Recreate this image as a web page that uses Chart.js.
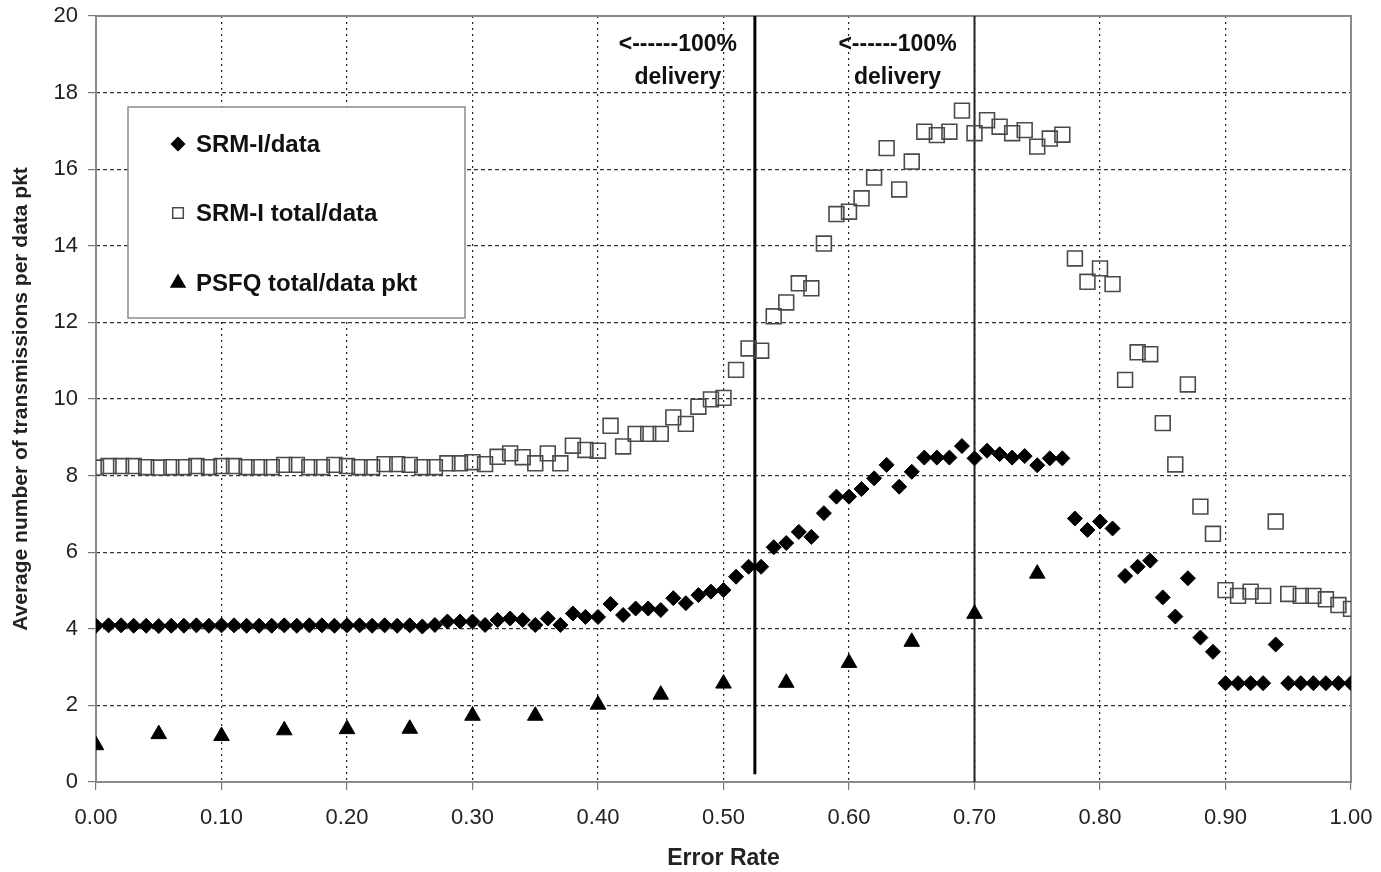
<!DOCTYPE html>
<html>
<head>
<meta charset="utf-8">
<script src="https://cdn.jsdelivr.net/npm/chart.js@4.4.1/dist/chart.umd.min.js"></script>
<style>
  html, body { margin: 0; padding: 0; background: #fff; }
  #wrap { width: 1381px; height: 872px; }
</style>
</head>
<body>
<div id="wrap"><canvas id="errChart" width="1381" height="872"></canvas></div>
<script>
// error rate for the SRM-I runs (0.00 .. 1.00)
var errorRate = [0.00,0.01,0.02,0.03,0.04,0.05,0.06,0.07,0.08,0.09,
  0.10,0.11,0.12,0.13,0.14,0.15,0.16,0.17,0.18,0.19,
  0.20,0.21,0.22,0.23,0.24,0.25,0.26,0.27,0.28,0.29,
  0.30,0.31,0.32,0.33,0.34,0.35,0.36,0.37,0.38,0.39,
  0.40,0.41,0.42,0.43,0.44,0.45,0.46,0.47,0.48,0.49,
  0.50,0.51,0.52,0.53,0.54,0.55,0.56,0.57,0.58,0.59,
  0.60,0.61,0.62,0.63,0.64,0.65,0.66,0.67,0.68,0.69,
  0.70,0.71,0.72,0.73,0.74,0.75,0.76,0.77,0.78,0.79,
  0.80,0.81,0.82,0.83,0.84,0.85,0.86,0.87,0.88,0.89,
  0.90,0.91,0.92,0.93,0.94,0.95,0.96,0.97,0.98,0.99,1.00];

var srmData = [4.08,4.09,4.09,4.08,4.08,4.07,4.08,4.08,4.09,4.08,
  4.09,4.09,4.08,4.08,4.08,4.09,4.08,4.09,4.09,4.08,
  4.09,4.09,4.08,4.09,4.08,4.09,4.06,4.10,
  4.19,4.19,4.19,4.10,4.23,4.27,4.23,4.10,4.27,4.10,
  4.40,4.31,4.31,4.65,4.36,4.53,4.53,4.49,4.80,4.67,
  4.88,4.97,5.01,5.36,5.62,5.62,6.13,
  6.24,6.53,6.40,7.02,7.45,7.45,7.65,7.93,8.28,7.71,
  8.10,8.47,8.47,8.47,8.77,8.45,8.65,8.56,8.47,8.51,
  8.27,8.45,8.45,
  6.88,6.58,6.80,6.62,5.38,5.62,5.78,4.82,4.32,5.32,
  3.77,3.40,2.58,2.58,2.58,2.58,3.59,2.58,2.58,2.58,
  2.58,2.58,2.58];

var srmTotal = [8.21,8.25,8.25,8.25,8.22,8.21,8.22,8.22,8.25,8.22,
  8.25,8.25,8.22,8.22,8.22,8.28,8.28,8.22,8.22,8.28,
  8.25,8.22,8.22,8.30,8.30,8.28,8.22,8.22,
  8.32,8.32,8.35,8.30,8.49,8.58,8.48,8.32,8.58,8.32,
  8.78,8.67,8.65,9.30,8.76,9.09,9.09,9.09,9.52,9.35,
  9.80,9.99,10.03,10.76,11.32,11.26,12.16,
  12.52,13.02,12.89,14.06,14.83,14.89,15.24,15.78,16.55,15.47,
  16.20,16.98,16.89,16.98,17.53,16.94,17.28,17.11,16.94,17.02,
  16.59,16.80,16.90,
  13.67,13.06,13.41,13.00,10.50,11.22,11.17,9.37,8.29,10.38,
  7.19,6.48,5.01,4.86,4.97,4.86,6.80,4.91,4.86,4.86,
  4.77,4.62,4.52];

// PSFQ was only run every 0.05
var psfqRate = [0.00,0.05,0.10,0.15,0.20,0.25,0.30,0.35,0.40,0.45,0.50,0.55,0.60,0.65,0.70,0.75];
var psfqTotal = [0.96,1.25,1.20,1.35,1.38,1.39,1.73,1.73,2.02,2.28,2.57,2.59,3.11,3.66,4.39,5.44];

// "100% delivery" limits
var cutoffX = [0.525, 0.70];
var cutoffLow = [0.2, 0];
var cutoffHigh = [20, 20];

var seriesNames = ["SRM-I/data", "SRM-I total/data", "PSFQ total/data pkt"];
var xTicks = [0, 0.1, 0.2, 0.3, 0.4, 0.5, 0.6, 0.7, 0.8, 0.9, 1.0];

function toPoints(xs, ys) {
  var pts = [];
  for (var i = 0; i < xs.length; i++) pts.push({x: xs[i], y: ys[i]});
  return pts;
}

var FONT = "'Liberation Sans', Arial, sans-serif";

var extras = {
  id: "extras",
  beforeDatasetsDraw: function(chart) {
    var ctx = chart.ctx, a = chart.chartArea;
    ctx.save();
    ctx.strokeStyle = "#8a8a8a";
    ctx.lineWidth = 2;
    ctx.strokeRect(a.left, a.top, a.right - a.left, a.bottom - a.top);
    ctx.restore();
  },
  afterDatasetsDraw: function(chart) {
    var ctx = chart.ctx;
    var xs = chart.scales.x;
    ctx.save();
    // notes next to the cut-off lines
    ctx.fillStyle = "#111";
    ctx.font = "bold 23px " + FONT;
    ctx.textAlign = "center";
    ctx.textBaseline = "middle";
    for (var i = 0; i < cutoffX.length; i++) {
      var cx = xs.getPixelForValue(cutoffX[i]) - 77;
      ctx.fillText("<------100%", cx, 45);
      ctx.fillText("delivery", cx, 78);
    }
    // legend box inside the plot
    ctx.fillStyle = "#fff";
    ctx.fillRect(128, 107, 337, 211);
    ctx.strokeStyle = "#8a8a8a";
    ctx.lineWidth = 1.5;
    ctx.strokeRect(128, 107, 337, 211);
    var rows = [144, 213, 283];
    ctx.font = "bold 24px " + FONT;
    for (var j = 0; j < 3; j++) {
      var ds = chart.data.datasets[j];
      ctx.fillStyle = ds.backgroundColor;
      ctx.strokeStyle = ds.borderColor;
      ctx.lineWidth = 1.5;
      Chart.helpers.drawPoint(ctx, {
        pointStyle: ds.pointStyle,
        radius: j === 1 ? 7.5 : ds.pointRadius - 1,
        borderWidth: 1.5
      }, 178, rows[j]);
      ctx.fillStyle = "#111";
      ctx.textAlign = "left";
      ctx.fillText(seriesNames[j], 196, rows[j] + 1);
    }
    ctx.restore();
  }
};

var chart = new Chart(document.getElementById("errChart"), {
  type: "scatter",
  data: {
    datasets: [{
      label: seriesNames[0],
      data: toPoints(errorRate, srmData),
      pointStyle: "rectRot",
      pointRadius: 7.5,
      backgroundColor: "#000",
      borderColor: "#000",
      borderWidth: 1
    }, {
      label: seriesNames[1],
      data: toPoints(errorRate, srmTotal),
      pointStyle: "rect",
      pointRadius: 10.5,
      backgroundColor: "rgba(255,255,255,0)",
      borderColor: "#4a4a4a",
      borderWidth: 1.6
    }, {
      label: seriesNames[2],
      data: toPoints(psfqRate, psfqTotal),
      pointStyle: "triangle",
      pointRadius: 9,
      backgroundColor: "#000",
      borderColor: "#000",
      borderWidth: 1
    }, {
      label: "cut1",
      data: [{x: cutoffX[0], y: cutoffLow[0]}, {x: cutoffX[0], y: cutoffHigh[0]}],
      showLine: true,
      pointRadius: 0,
      borderColor: "#000",
      borderWidth: 3
    }, {
      label: "cut2",
      data: [{x: cutoffX[1], y: cutoffLow[1]}, {x: cutoffX[1], y: cutoffHigh[1]}],
      showLine: true,
      pointRadius: 0,
      borderColor: "#222",
      borderWidth: 2
    }]
  },
  options: {
    responsive: false,
    animation: false,
    layout: {padding: {top: 16, right: 30, left: 0, bottom: 0}},
    plugins: {
      legend: {display: false},
      tooltip: {enabled: false}
    },
    scales: {
      x: {
        type: "linear",
        min: 0, max: 1,
        afterFit: function(s) { s.height = 90; s.paddingLeft = 0; s.paddingRight = 0; },
        afterBuildTicks: function(s) { s.ticks = xTicks.map(function(v) { return {value: v}; }); },
        ticks: {
          callback: function(v) { return Number(v).toFixed(2); },
          font: {family: FONT, size: 22},
          color: "#222",
          padding: 15,
          maxRotation: 0
        },
        grid: {color: "#222", tickColor: "#777", tickLength: 8, tickBorderDash: [], lineWidth: 1.2},
        border: {display: false, dash: [2, 4]},
        title: {
          display: true,
          text: "Error Rate",
          font: {family: FONT, size: 23, weight: "bold"},
          color: "#222",
          padding: {top: 0, bottom: 0}
        }
      },
      y: {
        min: 0, max: 20,
        afterFit: function(s) { s.width = 96; s.paddingTop = 0; s.paddingBottom = 0; },
        ticks: {
          stepSize: 2,
          font: {family: FONT, size: 22},
          color: "#222",
          padding: 10
        },
        grid: {color: "#333", tickColor: "#777", tickLength: 8, tickBorderDash: [], lineWidth: 1.2},
        border: {display: false, dash: [4, 3]},
        title: {
          display: true,
          text: "Average number of transmissions per data pkt",
          font: {family: FONT, size: 21, weight: "bold"},
          color: "#222",
          padding: {top: 9, bottom: 0}
        }
      }
    }
  },
  plugins: [extras]
});
</script>
</body>
</html>
